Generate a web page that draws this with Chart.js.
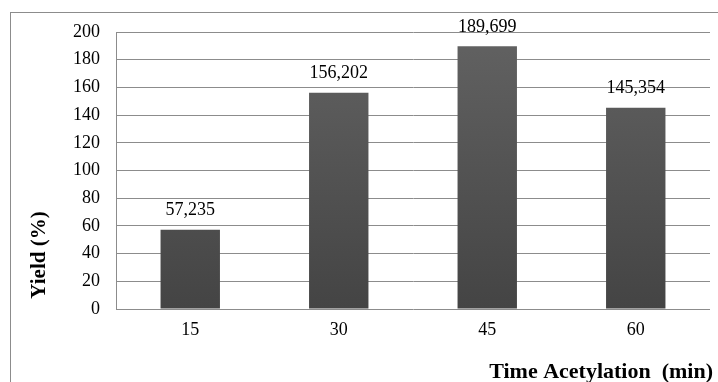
<!DOCTYPE html>
<html>
<head>
<meta charset="utf-8">
<script src="https://cdn.jsdelivr.net/npm/chart.js@4"></script>
<style>
  html, body { margin: 0; padding: 0; background: #fff; }
  #wrap { width: 718px; height: 382px; }
</style>
</head>
<body>
<div id="wrap"><canvas id="yieldChart" width="718" height="382"></canvas></div>
<script>
// data
const times = ['15', '30', '45', '60'];
const yields = [57.235, 156.202, 189.699, 145.354];
const yTicks = [0, 20, 40, 60, 80, 100, 120, 140, 160, 180, 200];
const xTitle = 'Time Acetylation  (min)';
const yTitle = 'Yield (%)';

const serif = '"Liberation Serif", "Times New Roman", serif';

// gray frame around the whole chart (cut off right and bottom like the original)
const frame = {
    id: 'frame',
    beforeDraw(chart) {
        const ctx = chart.ctx;
        ctx.save();
        ctx.fillStyle = '#fff';
        ctx.fillRect(0, 0, chart.width, chart.height);
        ctx.strokeStyle = '#8c8c8c';
        ctx.lineWidth = 1;
        ctx.strokeRect(10.5, 12.5, 800, 500);
        ctx.restore();
    }
};

// axis titles, placed like the original (y title sits low, x title at right)
const axisTitles = {
    id: 'axisTitles',
    afterDraw(chart) {
        const ctx = chart.ctx;
        const area = chart.chartArea;
        ctx.save();
        ctx.fillStyle = '#000';
        ctx.font = 'bold 22px ' + serif;
        ctx.textBaseline = 'middle';
        ctx.textAlign = 'right';
        ctx.fillText(xTitle, area.right + 3, 372);
        ctx.font = 'bold 21px ' + serif;
        ctx.translate(40, 255);
        ctx.rotate(-Math.PI / 2);
        ctx.textAlign = 'center';
        ctx.fillText(yTitle, 0, 0);
        ctx.restore();
    }
};

// value labels above bars, comma decimals
const valueLabels = {
    id: 'valueLabels',
    afterDatasetsDraw(chart) {
        const ctx = chart.ctx;
        const meta = chart.getDatasetMeta(0);
        ctx.save();
        ctx.font = '18px ' + serif;
        ctx.fillStyle = '#000';
        ctx.textAlign = 'center';
        ctx.textBaseline = 'middle';
        meta.data.forEach((bar, i) => {
            const txt = yields[i].toFixed(3).replace('.', ',');
            ctx.fillText(txt, bar.x, bar.y - 19);
        });
        ctx.restore();
    }
};

new Chart(document.getElementById('yieldChart'), {
    type: 'bar',
    data: {
        labels: times,
        datasets: [{
            label: yTitle,
            data: yields,
            backgroundColor(c) {
                const area = c.chart.chartArea;
                if (!area) return '#555';
                const g = c.chart.ctx.createLinearGradient(0, area.top, 0, area.bottom);
                g.addColorStop(0, '#626262');
                g.addColorStop(1, '#444444');
                return g;
            },
            borderWidth: 0,
            categoryPercentage: 0.8,
            barPercentage: 0.5
        }]
    },
    options: {
        responsive: false,
        animation: false,
        layout: { padding: { left: 0, top: 32, right: 8, bottom: 0 } },
        plugins: {
            legend: { display: false },
            tooltip: { enabled: false }
        },
        scales: {
            x: {
                grid: { display: false, drawTicks: false },
                border: { display: false },
                ticks: { color: '#000', font: { family: serif, size: 18 }, padding: 10 },
                afterFit(s) { s.height = 73; }
            },
            y: {
                min: 0,
                max: 200,
                afterBuildTicks(s) { s.ticks = yTicks.map(v => ({ value: v })); },
                grid: { color: '#8c8c8c', drawTicks: false, lineWidth: 1 },
                border: { display: true, color: '#8c8c8c' },
                ticks: { color: '#000', font: { family: serif, size: 18 }, padding: 16 },
                afterFit(s) { s.width = 116; }
            }
        }
    },
    plugins: [frame, axisTitles, valueLabels]
});
</script>
</body>
</html>
